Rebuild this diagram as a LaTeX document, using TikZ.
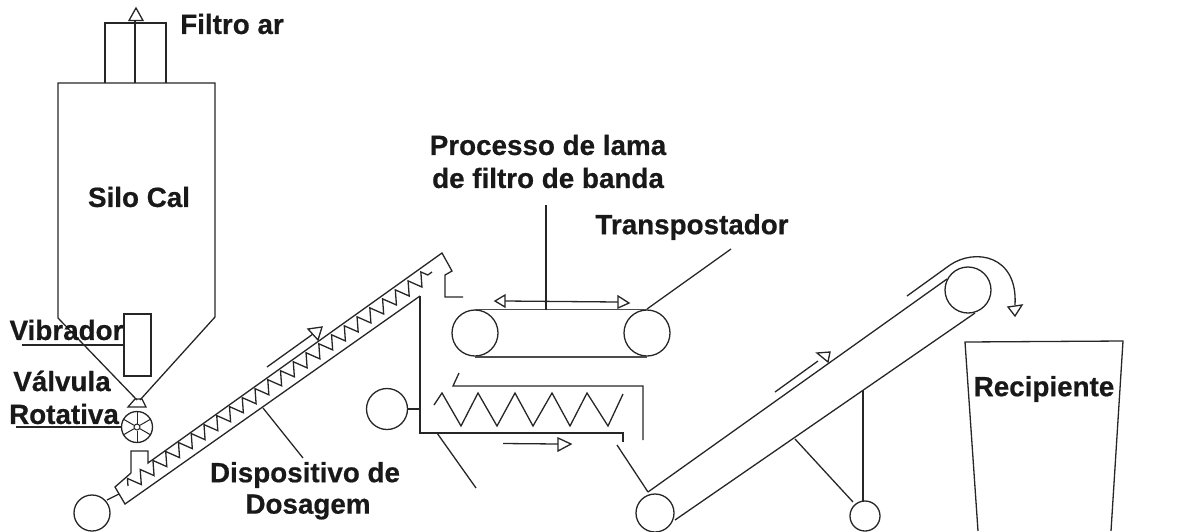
\documentclass[tikz,border=0pt]{standalone}
\usepackage{fontspec}
\setmainfont[BoldFeatures={FakeBold=0.6}]{Liberation Sans}
\usetikzlibrary{decorations.pathmorphing}
\tikzset{
  ln/.style={draw=black!85,line width=1.3pt,line join=miter},
  belt/.style={draw=black!70,line width=1.7pt},
  tri/.style={draw=black!85,line width=1.3pt,fill=white},
  lab/.style={font=\bfseries\fontsize{27.8}{32}\selectfont,text=black!90,inner sep=0pt,align=center},
}
\begin{document}
\begin{tikzpicture}[x=1pt,y=-1pt]
\useasboundingbox (0,0) rectangle (1202,531);
\clip (0,0) rectangle (1202,531);
% silo
\draw[ln] (105,83) -- (105,23) -- (166,23) -- (166,83);
\draw[ln] (135,83) -- (135,20);
\draw[tri] (129,20.5) -- (136,8) -- (143,20.5) -- cycle;
\draw[ln] (137,400) -- (58,318) -- (58,83) -- (215,83) -- (215,317) -- (140,400);
\draw[ln] (128,407) -- (135,399) -- (142,399) -- (146,407) -- cycle;
\draw[ln,fill=white] (124,314) rectangle (151,376);
\draw[ln] (22,345) -- (124,345);
% rotary valve
\node[circle,draw=black!85,line width=1.3pt,minimum size=31pt,inner sep=0pt] (valve) at (137,427) {};
\node[circle,draw=black!85,line width=1pt,minimum size=6pt,inner sep=0pt] (hub) at (137,427) {};
\foreach \a in {30,90,150,210,270,330} \draw[black!85,line width=1pt] (hub.\a) -- (valve.\a);
\draw[ln] (16,427) -- (valve.west);
% screw feeder
\node[circle,draw=black!85,line width=1.3pt,minimum size=36pt,inner sep=0pt] (m1) at (92,513) {};
\coordinate (s1) at (119,494);
\draw[ln] (m1) ++(15,-13) -- (s1);
\draw[ln] (131,473) -- (131,451) -- (148,451) -- (148,463) -- (442,253) -- (452,271) -- (445,275) -- (445,297) -- (463,297);
\draw[ln] (131,473) -- (115,487) -- (125,504) -- (420,296);
\draw[ln,decorate,decoration={zigzag,segment length=15.6pt,amplitude=6.5pt}] (128,486) -- (432,272);
\draw[ln] (267,367) -- (313,334);
\draw[tri] (308,329) -- (322,327) -- (318,340) -- cycle;
\draw[ln] (263,408) -- (303,458);
% press support
\draw[ln] (420,296) -- (420,433) -- (623,433) -- (623,442);
\node[circle,draw=black!85,line width=1.3pt,minimum size=41pt,inner sep=0pt] (m2) at (387,409) {};
\draw[ln] (m2.east) -- (420,409);
\draw[ln] (437,433) -- (476,488);
% belt
\node[circle,draw=black!85,line width=1.3pt,minimum size=46pt,inner sep=0pt] (p1) at (475,333) {};
\node[circle,draw=black!85,line width=1.3pt,minimum size=46pt,inner sep=0pt] (p2) at (647,333) {};
\draw[belt] (p1.north) -- (p2.north);
\draw[belt] (p1.south) -- (p2.south);
\draw[ln] (505,301) -- (618,302);
\draw[tri] (505,295) -- (495,301) -- (505,307) -- cycle;
\draw[tri] (618,296) -- (629,303) -- (618,308) -- cycle;
\draw[ln] (546,205) -- (546,310);
\draw[ln] (647,309) -- (731,249);
% hopper and lower screw
\draw[ln] (459,373) -- (453,386) -- (643,386) -- (643,440);
\draw[ln] (434,405) -- (442,393) -- (461,426) -- (478,393) -- (497,426) -- (515,393) -- (533,426) -- (552,393) -- (570,426) -- (587,393) -- (608,426) -- (623,394);
\draw[ln] (503,443.5) -- (558,444);
\draw[tri] (558,438) -- (571,444) -- (558,451) -- cycle;
% inclined conveyor
\node[circle,draw=black!85,line width=1.3pt,minimum size=38pt,inner sep=0pt] (p3) at (655,513) {};
\node[circle,draw=black!85,line width=1.3pt,minimum size=46pt,inner sep=0pt] (p4) at (968,290) {};
\draw[ln] (648,492) -- (947,279);
\draw[ln] (675,520) -- (975,313);
\draw[ln] (617,445) -- (648,492);
\draw[ln] (775,392) -- (818,361);
\draw[tri] (817,353) -- (830,352) -- (828,362) -- cycle;
\draw[ln] (907,296) -- (950,265) .. controls (975,248) and (1018,255) .. (1015,305);
\draw[tri] (1008,307) -- (1015,316) -- (1022,305) -- cycle;
\draw[ln] (795,439) -- (853,502);
\draw[ln] (863,390) -- (863,502);
\node[circle,draw=black!85,line width=1.3pt,minimum size=30pt,inner sep=0pt] (p5) at (865,516) {};
% recipient
\draw[ln] (978,531) -- (965,342) -- (1123,341) -- (1111,531);
% labels
\node[lab] (t1) at (232,24) {Filtro ar};
\node[lab] (t2) at (139,197) {Silo Cal};
\node[lab] (t3) at (66.5,330) {Vibrador};
\node[lab] (t4) at (62,381) {Válvula};
\node[lab] (t5) at (64,414) {Rotativa};
\node[lab] (t6) at (548,145) {Processo de lama};
\node[lab] (t7) at (548,178) {de filtro de banda};
\node[lab] (t8) at (692,227) {Transpostador};
\node[lab] (t9) at (305,475) {Dispositivo de};
\node[lab] (t10) at (308,507) {Dosagem};
\node[lab] (t11) at (1044,389) {Recipiente};
\end{tikzpicture}
\end{document}
